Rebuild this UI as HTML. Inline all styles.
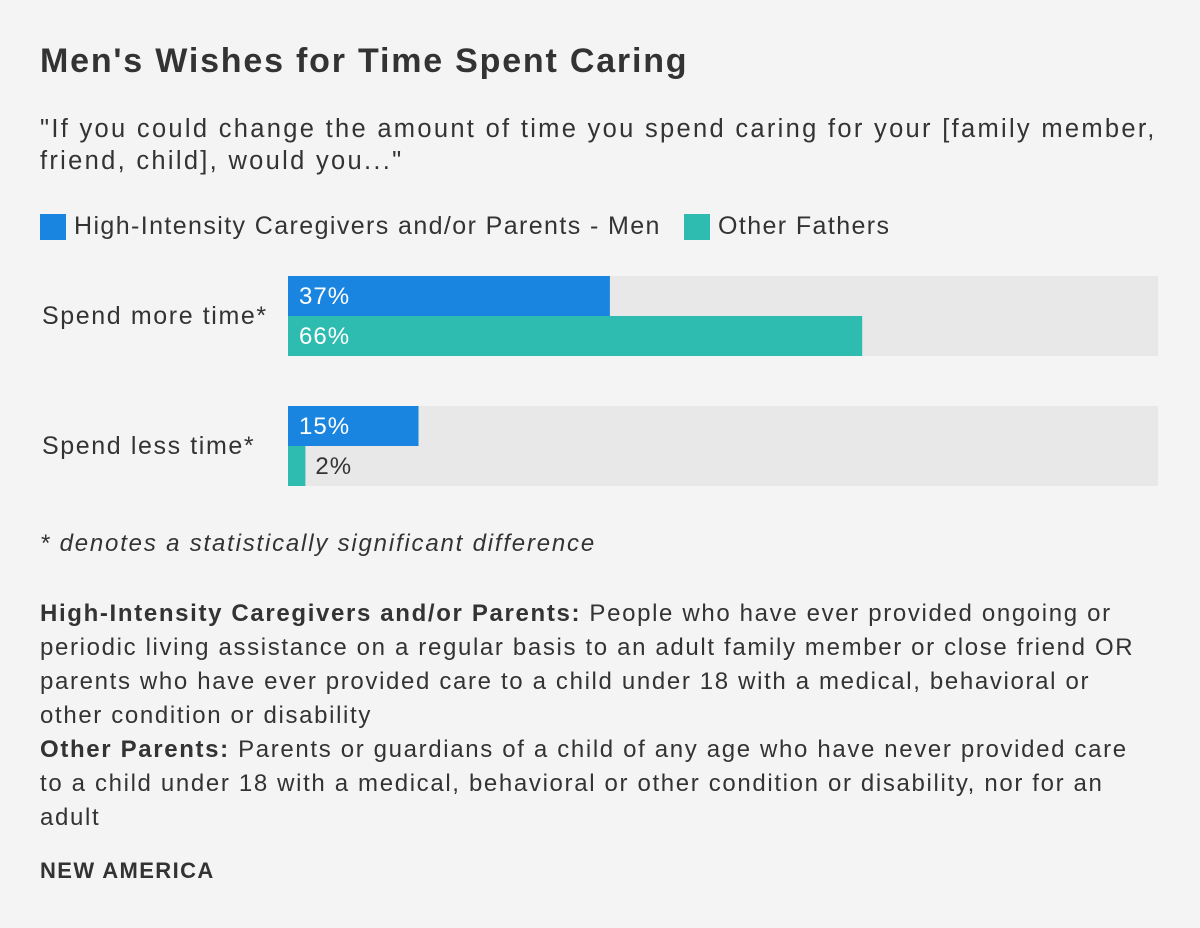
<!DOCTYPE html>
<html><head><meta charset="utf-8"><style>
body{margin:0;background:#f4f4f4;width:1200px;height:928px;overflow:hidden;font-family:"Liberation Sans",sans-serif;color:#333;position:relative}
.a{position:absolute;white-space:nowrap}
#title{left:40px;top:42px;font-size:34px;font-weight:bold;color:#333;letter-spacing:1.8px}
#sub{left:40px;top:113px;font-size:25.5px;line-height:32px;color:#333;letter-spacing:2.3px}
.leg{top:212px;font-size:25px;display:flex;align-items:center;letter-spacing:1.4px}
.sw{width:26px;height:26px;margin-right:8px}
#note{left:40px;top:530px;font-size:24px;font-style:italic;letter-spacing:1.8px}
#def{left:40px;top:597px;font-size:24px;line-height:34px;letter-spacing:1.65px}
#src{left:40px;top:858px;font-size:22px;font-weight:bold;letter-spacing:1.4px}
</style></head><body>
<div class="a" id="title">Men's Wishes for Time Spent Caring</div>
<div class="a" id="sub">"If you could change the amount of time you spend caring for your [family member,<br>friend, child], would you..."</div>
<div class="a leg" style="left:40px"><div class="sw" style="background:#1a85e0"></div>High-Intensity Caregivers and/or Parents - Men</div>
<div class="a leg" style="left:684px"><div class="sw" style="background:#2ebcb0"></div>Other Fathers</div>
<svg class="a" style="left:0;top:0" width="1200" height="520" id="chart"></svg>
<div class="a" id="note">* denotes a statistically significant difference</div>
<div class="a" id="def"><b>High-Intensity Caregivers and/or Parents:</b> People who have ever provided ongoing or<br>periodic living assistance on a regular basis to an adult family member or close friend OR<br>parents who have ever provided care to a child under 18 with a medical, behavioral or<br>other condition or disability<br><b>Other Parents:</b> Parents or guardians of a child of any age who have never provided care<br>to a child under 18 with a medical, behavioral or other condition or disability, nor for an<br>adult</div>
<div class="a" id="src">NEW AMERICA</div>
<script>
const categories=["Spend more time*","Spend less time*"];
const highIntensity=[37,15];
const otherFathers=[66,2];
const svg=document.getElementById('chart');
const NS='http://www.w3.org/2000/svg';
const x0=288,W=870;
function xs(v){return v/100*W;}
function mk(t,a){const e=document.createElementNS(NS,t);for(const k in a)e.setAttribute(k,a[k]);svg.appendChild(e);return e;}
categories.forEach((c,i)=>{
 const top=276+i*130;
 const tr=mk('rect',{x:x0,y:top,width:W,height:80,fill:'#e8e8e8'});
 
 
 const lb=mk('text',{x:42,y:top+48,'font-size':25,fill:'#333','letter-spacing':1.6});lb.textContent=c;
 
 
 [[highIntensity,'#1a85e0'],[otherFathers,'#2ebcb0']].forEach(([arr,col],j)=>{
  const v=arr[i],w=xs(v),y=top+j*40;
  const r=mk('rect',{x:x0,y:y,width:w,height:40,fill:col});
  
  
  const inside=w>60;
  const t=mk('text',{x:inside?x0+11:x0+w+10,y:y+28,'font-size':24,fill:inside?'#fff':'#333','letter-spacing':1});
  t.textContent=v+'%';
  
  
 });
});
</script>
</body></html>
